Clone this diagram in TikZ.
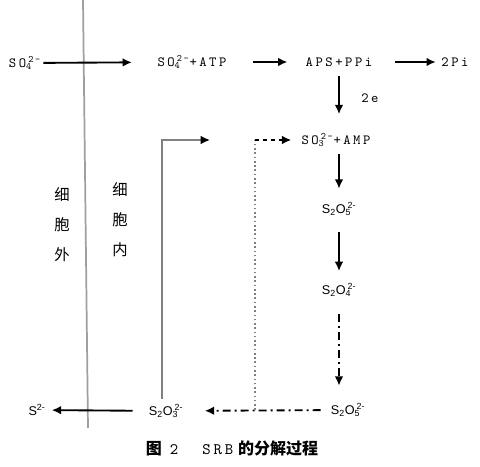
\documentclass[tikz,border=0pt]{standalone}
\usepackage{fontspec}
\setmainfont{Liberation Sans}
\newfontfamily\monof[LetterSpace=18]{lmmono10-regular.otf}
\newfontfamily\cjk{Noto Sans CJK SC}
\usetikzlibrary{arrows.meta}
\newcommand\subsup[2]{\textsubscript{\rlap{#1}}\kern0.1em\textsuperscript{#2}}

\begin{document}
\begin{tikzpicture}[x=0.75pt, y=-0.75pt,
  mono/.style={font=\monof\fontsize{10.5}{12}\selectfont, inner sep=0pt},
  chem/.style={font=\fontsize{9.5}{11}\selectfont, inner sep=0pt},
  cjkt/.style={font=\cjk\fontsize{11.5}{22.5}\selectfont, align=center, inner sep=0pt},
  arr/.style={-{Latex[length=7pt, width=6.5pt]}, line width=1.4pt},
  dashdot/.style={arr, dash pattern=on 6pt off 3pt on 1.5pt off 3pt}]
\useasboundingbox (0,0) rectangle (480,467);
\coordinate (wtop) at (83,0);
\coordinate (wbot) at (88,428);
\draw[gray!75, line width=1.3pt] (wtop) -- (wbot);

\node[mono] (so4o) at (25,63) {SO\subsup{4}{2-}};
\node[mono] (so4a) at (192,62) {SO\subsup{4}{2-}+ATP};
\node[mono] (aps) at (339,62) {APS+PPi};
\node[mono] (pi) at (455,62) {2Pi};
\node[mono] (e2) at (370,98) {2e};
\node[mono] (so3) at (336,140) {SO\subsup{3}{2-}+AMP};
\node[chem] (s2o5) at (339,209) {S\textsubscript{2}O\subsup{5}{2-}};
\node[chem] (s2o4) at (339,290) {S\textsubscript{2}O\subsup{4}{2-}};
\node[chem] (s2o5b) at (348,410) {S\textsubscript{2}O\subsup{5}{2-}};
\node[chem] (s2o3) at (166,411) {S\textsubscript{2}O\subsup{3}{2-}};
\node[chem] (s2) at (37,410) {S\textsuperscript{2-}};
\node[cjkt] (outs) at (62,225) {细\\胞\\外};
\node[cjkt] (ins) at (120,220) {细\\胞\\内};
\node[font=\cjk\bfseries\fontsize{12}{14}\selectfont] (cap) at (232,448)
  {图\hspace{0.5em}{\monof\mdseries 2}\hspace{1.5em}{\monof\mdseries SRB}\hspace{0.3em}的分解过程};

\draw[arr, shorten <=1.5pt, shorten >=19pt] (so4o) -- (so4a);
\draw[arr, shorten <=20pt, shorten >=13.5pt] (so4a) -- (aps);
\draw[arr, shorten <=17pt, shorten >=4pt] (aps) -- (pi);
\draw[arr, shorten <=7pt, shorten >=14pt] (aps.south) -- (aps.south |- so3.north);
\draw[arr, shorten <=5pt, shorten >=10pt] (s2o5 |- so3.south) -- (s2o5.north);
\draw[arr, shorten <=12pt, shorten >=9pt] (s2o5) -- (s2o4);
\draw[dashdot, shorten <=13pt, shorten >=13pt] (s2o4.south) -- (s2o4.south |- s2o5b.north);
\draw[dashdot, shorten <=7.5pt, shorten >=16pt] (s2o5b) -- (s2o3);
\draw[arr, shorten <=12pt, shorten >=4.5pt] (s2o3) -- (s2);

\coordinate (gin) at (210,140);
\draw[gray, line width=1.3pt, -{Latex[length=7pt, width=6.5pt, color=black]}, shorten <=4pt]
  ([xshift=-3pt]s2o3.north) |- (gin);
\coordinate (jn) at (255,410);
\coordinate (turn) at (255,140);
\draw[gray, line width=1.2pt, dotted] (jn) -- (turn);
\draw[arr, dashed, line width=1.2pt, shorten >=7.5pt] (turn) -- (so3);
\end{tikzpicture}
\end{document}
